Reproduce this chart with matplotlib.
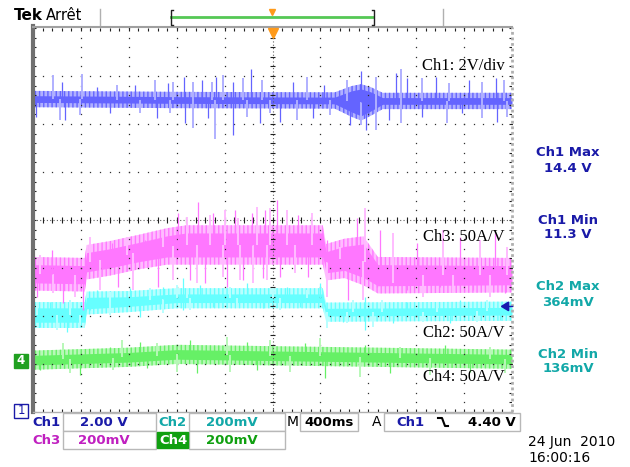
import numpy as np
import matplotlib.pyplot as plt
from matplotlib.patches import Rectangle, Polygon
from matplotlib.lines import Line2D

# --- traces, x in divisions (400 ms/div), y in divisions ---
ch1_t = [0, 3.0, 6.3, 6.65, 6.85, 7.05, 7.3, 10]
ch1_level = [2.52, 2.50, 2.49, 2.47, 2.45, 2.47, 2.48, 2.48]
ch1_half = [0.07, 0.07, 0.07, 0.22, 0.28, 0.20, 0.07, 0.07]
ch1_spike_t = [0.42, 0.60, 1.02, 1.33, 1.75, 2.13, 2.55, 2.82, 2.92, 3.15, 3.33, 3.52,
               3.73, 3.83, 3.96, 4.17, 4.38, 4.56, 4.79, 5.42, 5.73, 6.08, 6.56, 6.85,
               7.17, 7.58, 7.69, 7.81, 8.13, 8.42, 8.69, 9.11, 9.38, 9.67, 9.83,
               0.06, 0.56, 0.67, 0.98, 1.60, 2.23, 2.58, 2.85, 3.17, 3.33, 3.65, 3.80,
               4.17, 4.46, 4.73, 4.94, 5.15, 5.52, 5.84, 6.19, 6.61, 6.85, 6.96, 7.17,
               7.44, 7.69, 8.13, 8.65, 8.96, 9.38, 9.69, 9.90]
ch1_spike_v = [3.02, 2.88, 3.04, 2.77, 2.81, 2.81, 2.92, 2.85, 2.88, 2.98, 2.88, 2.92,
               2.88, 2.98, 3.02, 2.88, 2.96, 3.15, 2.92, 2.88, 2.98, 2.81, 2.92, 3.10,
               2.98, 3.06, 3.15, 2.96, 2.96, 2.98, 2.85, 2.92, 2.88, 2.96, 2.92,
               2.15, 2.08, 2.08, 2.19, 2.23, 2.23, 2.13, 2.23, 2.02, 1.92, 2.13, 1.69,
               1.77, 2.15, 2.02, 2.23, 2.04, 2.08, 2.13, 2.19, 1.98, 1.98, 1.88, 1.88,
               2.08, 2.02, 2.15, 2.02, 2.23, 2.13, 2.04, 2.15]

ch3_t = [0, 1.08, 1.12, 1.6, 2.2, 2.8, 3.2, 6.05, 6.12, 6.5, 6.9, 7.2, 10]
ch3_level = [-1.12, -1.14, -0.88, -0.80, -0.67, -0.55, -0.52, -0.52, -0.88, -0.80, -0.85, -1.15, -1.15]
ch3_half = [0.19, 0.19, 0.20, 0.20, 0.20, 0.22, 0.25, 0.25, 0.22, 0.25, 0.35, 0.22, 0.20]
ch3_spike_t = [0.15, 0.40, 1.19, 1.65, 1.96, 2.34, 2.71, 3.03, 3.22, 3.44, 3.70, 3.76, 4.01,
               4.22, 4.28, 4.57, 4.68, 4.84, 4.95, 5.09, 5.30, 5.53, 5.82, 6.14, 6.41,
               6.76, 6.93, 7.24, 7.52, 8.02, 8.56, 8.91, 9.33, 9.65, 9.90,
               0.08, 0.42, 0.63, 0.88, 1.04, 1.40, 1.77, 2.09, 2.61, 2.92, 3.28, 3.42,
               3.59, 3.97, 4.05, 4.32, 4.38, 4.59, 4.80, 4.89, 5.16, 5.47, 5.74, 6.14,
               6.58, 6.89, 7.18, 7.52, 7.81, 8.14, 8.50, 8.77, 9.19, 9.54, 9.85]
ch3_spike_v = [-0.73, -0.63, -0.35, -0.48, -0.35, -0.42, -0.25, 0.15, 0.06, 0.38, 0.10, 0.15, 0.21,
               0.21, 0.04, 0.15, 0.27, 0.21, 0.25, 0.42, 0.21, 0.10, 0.15, -0.42, -0.56,
               0.04, 0.25, -0.21, -0.27, -0.48, -0.21, -0.35, -0.42, -0.27, -0.56,
               -1.60, -1.52, -1.73, -1.60, -1.88, -1.46, -1.40, -1.46, -1.40, -1.25, -1.25, -1.31,
               -1.31, -1.19, -1.40, -1.25, -1.25, -1.31, -1.21, -1.25, -1.19, -1.10, -1.19, -1.60,
               -1.67, -1.67, -1.40, -1.31, -1.46, -1.60, -1.40, -1.52, -1.46, -1.60, -1.52]

ch2_t = [0, 1.08, 1.12, 2.0, 3.0, 6.05, 6.12, 10]
ch2_level = [-1.98, -1.98, -1.73, -1.70, -1.63, -1.63, -1.92, -1.90]
ch2_half = [0.15, 0.15, 0.12, 0.10, 0.09, 0.09, 0.08, 0.08]
ch2_spike_t = [0.08, 0.35, 0.77, 1.34, 1.61, 2.03, 2.44, 2.71, 3.01, 3.13, 3.22, 3.49, 4.11,
               4.47, 5.01, 5.30, 5.72, 5.99, 6.68, 6.93, 7.29, 7.81, 8.43, 8.91, 9.48,
               0.15, 0.50, 0.71, 0.98, 1.19, 1.61, 2.23, 2.71, 3.13, 3.28, 3.76, 4.26,
               4.80, 5.16, 5.57, 6.14, 6.47, 6.56, 6.93, 7.10, 7.52, 8.14, 8.71, 9.27, 9.75]
ch2_spike_v = [-1.73, -1.71, -1.67, -1.46, -1.50, -1.42, -1.42, -1.40, -1.35, -1.21, -1.46, -1.35, -1.40,
               -1.31, -1.42, -1.40, -1.46, -1.31, -1.67, -1.60, -1.67, -1.71, -1.71, -1.67, -1.67,
               -2.23, -2.29, -2.33, -2.19, -1.88, -1.98, -2.02, -1.94, -1.88, -1.88, -1.81, -1.83,
               -1.83, -1.88, -1.81, -2.25, -2.13, -2.15, -2.29, -2.23, -2.15, -2.13, -2.15, -2.13, -2.08]

ch4_t = [0, 2.0, 3.0, 6.5, 10]
ch4_level = [-2.92, -2.86, -2.80, -2.85, -2.90]
ch4_half = [0.10, 0.10, 0.10, 0.10, 0.10]
ch4_spike_t = [0.63, 1.61, 1.86, 2.23, 2.59, 3.28, 4.05, 4.47, 4.95, 5.68, 5.99, 6.93, 7.66,
               8.60, 9.54,
               0.15, 0.77, 0.98, 1.67, 2.38, 3.01, 3.42, 4.11, 4.68, 5.37, 6.10, 6.83,
               7.45, 8.29, 9.12, 9.85]
ch4_spike_v = [-2.56, -2.65, -2.50, -2.54, -2.56, -2.50, -2.44, -2.54, -2.50, -2.56, -2.46, -2.60, -2.65,
               -2.60, -2.65,
               -3.13, -3.19, -3.23, -3.13, -3.08, -3.17, -3.19, -3.17, -3.13, -3.17, -3.29, -3.27,
               -3.19, -3.23, -3.17, -3.19]

meas_names = ["Ch1 Max", "Ch1 Min", "Ch2 Max", "Ch2 Min"]
meas_values = ["14.4 V", "11.3 V", "364mV", "136mV"]

C1, C1L = "#6464ff", "#b0b0ff"
C2, C2L = "#66ffff", "#b8ffff"
C3, C3L = "#ff77ff", "#ffbcff"
C4, C4L = "#66f066", "#b8f8b8"
T1, T2, T3, T4 = "#1a1aa8", "#12a8a8", "#c020c0", "#10a010"

plt.rcParams["hatch.linewidth"] = 1.0

W, H = 630, 467
fig = plt.figure(figsize=(W / 100, H / 100), dpi=100)
fig.patch.set_facecolor("white")
ax = fig.add_axes([33 / W, (H - 412) / H, 479 / W, 384 / H])
ax.set_xlim(0, 10)
ax.set_ylim(-4, 4)
ax.axis("off")


def ftext(px, py, s, **kw):
    fig.text(px / W, 1 - py / H, s, **kw)


# graticule
fine = np.arange(0, 10.01, 0.2)
fine_y = np.arange(-4, 4.01, 0.2)
for gx in range(1, 10):
    if gx != 5:
        ax.plot([gx] * len(fine_y), fine_y, ls="none", marker="s", ms=0.9, color="#303030", mew=0)
for gy in range(-3, 4):
    if gy != 0:
        ax.plot(fine, [gy] * len(fine), ls="none", marker="s", ms=0.9, color="#303030", mew=0)
ax.plot([0, 10], [0, 0], ls=(0, (1, 2)), color="#606060", lw=0.8)
ax.plot([5, 5], [-4, 4], ls=(0, (1, 2)), color="#606060", lw=0.8)
ax.vlines(fine, -0.06, 0.06, color="#202020", lw=0.8)
ax.hlines(fine_y, 4.94, 5.06, color="#202020", lw=0.8)
ax.vlines(fine, 3.93, 4.0, color="#202020", lw=0.8)
ax.vlines(fine, -4.0, -3.93, color="#202020", lw=0.8)
ax.hlines(fine_y, 0, 0.07, color="#202020", lw=0.8)
ax.hlines(fine_y, 9.93, 10, color="#202020", lw=0.8)


def trace(t, level, half, extra, st, sv, dark, light):
    t = np.array(t)
    level = np.array(level)
    half = np.array(half)
    # ragged noise envelope: light band streaked with the trace colour
    ax.fill_between(t, level - half - extra, level + half + extra, facecolor=light,
                    edgecolor=dark, hatch="||||", lw=0)
    base = np.interp(st, t, level)
    ax.vlines(st[::2], base[::2], np.array(sv)[::2], color=light, lw=1.4)
    ax.vlines(st[1::2], base[1::2], np.array(sv)[1::2], color=dark, lw=0.9)
    ax.fill_between(t, level - half, level + half, color=dark, lw=0)


trace(ch1_t, ch1_level, ch1_half, 0.1, ch1_spike_t, ch1_spike_v, C1, C1L)
trace(ch2_t, ch2_level, ch2_half, 0.12, ch2_spike_t, ch2_spike_v, C2, C2L)
trace(ch3_t, ch3_level, ch3_half, 0.16, ch3_spike_t, ch3_spike_v, C3, C3L)
trace(ch4_t, ch4_level, ch4_half, 0.1, ch4_spike_t, ch4_spike_v, C4, C4L)

# frame
ax.plot([0, 0], [-4, 4.05], color="#707070", lw=3, clip_on=False)
ax.plot([0, 10], [4.02, 4.02], color="#a0a0a0", lw=1.5, clip_on=False)
ax.plot([10, 10], [-4, 4.02], color="#b0b0b0", lw=2, ls=(0, (1, 1)), clip_on=False)
ax.plot([0, 10], [-4, -4], color="#b0b0b0", lw=1, clip_on=False)

# trigger markers
ax.plot([5], [3.9], marker="v", color="#ff9a1a", ms=7, clip_on=False)
ax.add_patch(Polygon([[9.78, -1.8], [9.93, -1.71], [9.93, -1.89]], closed=True, color="#1a1ab0", clip_on=False))
ax.plot([9.9, 10], [-1.8, -1.8], color="#1a1ab0", lw=1, clip_on=False)

# channel labels inside the graticule
for y, s in [(3.2, "Ch1: 2V/div"), (-0.36, "Ch3: 50A/V"), (-2.36, "Ch2: 50A/V"), (-3.27, "Ch4: 50A/V")]:
    ax.text(9.85, y, s, ha="right", va="center", fontsize=12, family="Liberation Serif", color="black")

# ground markers
fig.add_artist(Rectangle((14 / W, 1 - 418 / H), 14 / W, 14 / H, transform=fig.transFigure,
                         facecolor="white", edgecolor=T1, lw=1))
ftext(21, 411, "1", color=T1, fontsize=8.5, ha="center", va="center")
fig.add_artist(Rectangle((14 / W, 1 - 368 / H), 14 / W, 14 / H, transform=fig.transFigure,
                         facecolor="#20a020", edgecolor="#20a020", lw=1))
ftext(21, 361, "4", color="white", fontsize=8.5, ha="center", va="center", weight="bold")

# top bar
ftext(14, 15, "Tek", fontsize=11, weight="bold", va="center", family="DejaVu Sans")
ftext(46, 15, "Arrêt", fontsize=10.5, va="center")
fig.add_artist(Line2D([100 / W] * 2, [1 - 9 / H, 1 - 25 / H], color="#b0b0b0", lw=1))
fig.add_artist(Line2D([443 / W] * 2, [1 - 9 / H, 1 - 25 / H], color="#b0b0b0", lw=1))
fig.add_artist(Line2D([171 / W, 373 / W], [1 - 17 / H] * 2, color="#55c855", lw=2))
for bx, d in [(171, 1), (374, -1)]:
    fig.add_artist(Line2D([(bx + 2 * d) / W, bx / W, bx / W, (bx + 2 * d) / W],
                          [1 - 10 / H, 1 - 10 / H, 1 - 25 / H, 1 - 25 / H], color="#202020", lw=1))
fig.add_artist(Line2D([272 / W], [1 - 12 / H], marker="v", color="#ff9a1a", ms=5))

# measurements on the right
for i, (n, v) in enumerate(zip(meas_names, meas_values)):
    col = T1 if i < 2 else T2
    ftext(568, 153 + i * 67, n, color=col, fontsize=9.5, ha="center", va="center", weight="bold")
    ftext(568, 168 + i * 67, v, color=col, fontsize=9.5, ha="center", va="center", weight="bold")


# bottom readout
def box(x0, x1, y0, y1, fc="white", ec="#b8b8b8"):
    fig.add_artist(Rectangle((x0 / W, 1 - y1 / H), (x1 - x0) / W, (y1 - y0) / H,
                             transform=fig.transFigure, facecolor=fc, edgecolor=ec, lw=1))


box(63, 156, 413, 431)
box(189, 285, 413, 431)
box(300, 358, 413, 431)
box(384, 520, 413, 431)
box(63, 156, 431, 449)
box(189, 285, 431, 449)
box(157, 188, 432, 448, fc="#10a010", ec="#10a010")

fs = dict(fontsize=9.5, va="center", weight="bold")
ftext(32, 422, "Ch1", color=T1, **fs)
ftext(128, 422, "2.00 V", color=T1, ha="right", **fs)
ftext(158, 422, "Ch2", color=T2, **fs)
ftext(258, 422, "200mV", color=T2, ha="right", **fs)
ftext(287, 422, "M", color="black", fontsize=10, va="center")
ftext(329, 422, "400ms", color="black", ha="center", **fs)
ftext(372, 422, "A", color="black", fontsize=10, va="center")
ftext(396, 422, "Ch1", color=T1, **fs)
fig.add_artist(Line2D([438 / W, 442 / W, 445 / W, 448 / W], [1 - 418 / H, 1 - 418 / H, 1 - 426 / H, 1 - 426 / H],
                      color="black", lw=1.5))
ftext(516, 422, "4.40 V", color="black", ha="right", **fs)
ftext(32, 440, "Ch3", color=T3, **fs)
ftext(130, 440, "200mV", color=T3, ha="right", **fs)
ftext(159, 440, "Ch4", color="white", **fs)
ftext(258, 440, "200mV", color=T4, ha="right", **fs)

ftext(528, 442, "24 Jun  2010", color="black", fontsize=10, va="center")
ftext(528, 458, "16:00:16", color="black", fontsize=10, va="center")

fig.savefig("out.png", dpi=100)
